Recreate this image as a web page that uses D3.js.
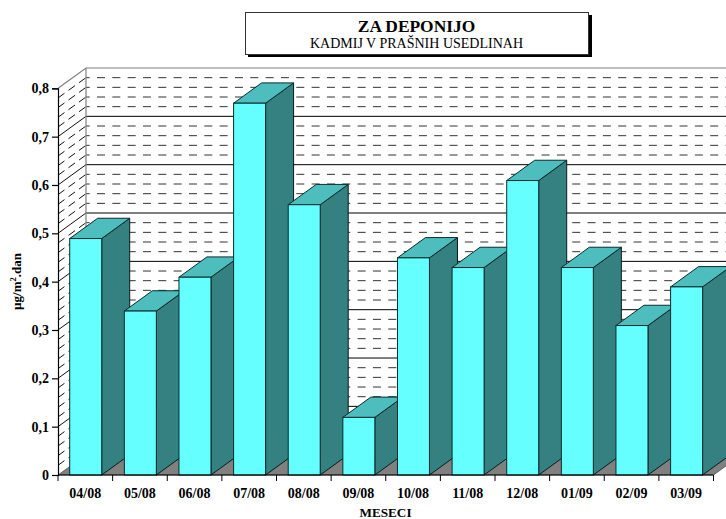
<!DOCTYPE html>
<html><head><meta charset="utf-8">
<script src="https://cdn.jsdelivr.net/npm/d3@7"></script>
<style>html,body{margin:0;padding:0;background:#fff}svg{display:block}text{font-family:"Liberation Serif","Times New Roman",serif;fill:#000}</style>
</head><body><div id="c"></div>
<script>
const categories=["04/08","05/08","06/08","07/08","08/08","09/08","10/08","11/08","12/08","01/09","02/09","03/09"];
const values=[0.49,0.34,0.41,0.77,0.56,0.12,0.45,0.43,0.61,0.43,0.31,0.39];
const majorTicks=[0,0.1,0.2,0.3,0.4,0.5,0.6,0.7,0.8];
const minorTicks=d3.range(0,40).map(i=>i*0.02).filter(v=>Math.round(v*100)%10!==0);
const titleText="ZA DEPONIJO", subtitleText="KADMIJ V PRAŠNIH USEDLINAH", xTitle="MESECI";

const W=726,H=519,dx=28,dy=20.3;
const svg=d3.select("#c").append("svg").attr("width",W).attr("height",H);
const x=d3.scaleBand().domain(categories).range([58,713.5]).paddingInner(0).paddingOuter(0);
const y=d3.scaleLinear().domain([0,0.8]).range([475,88.3]);
const barW=32, inset=(x.bandwidth()-barW)/2+0.4;
const fmt=v=>v===0?"0":String(v).replace(".",",");
const x0=x.range()[0],x1=x.range()[1];
const poly=p=>p.map(a=>a.join(",")).join(" ");

// back wall gridlines
const g=svg.append("g");
g.selectAll(".minor").data(minorTicks).join("line")
 .attr("x1",x0+dx).attr("x2",W+20).attr("y1",d=>y(d)-dy).attr("y2",d=>y(d)-dy)
 .attr("stroke","#333").attr("stroke-width",1).attr("stroke-dasharray","8,7.33").attr("stroke-dashoffset",4.33);
g.selectAll(".major").data(majorTicks.slice(1,-1)).join("line")
 .attr("x1",x0+dx).attr("x2",W+20).attr("y1",d=>y(d)-dy).attr("y2",d=>y(d)-dy)
 .attr("stroke","#000").attr("stroke-width",1);
// side wall
g.selectAll(".sminor").data(minorTicks).join("line")
 .attr("x1",x0).attr("x2",x0+dx).attr("y1",d=>y(d)).attr("y2",d=>y(d)-dy)
 .attr("stroke","#111").attr("stroke-width",1).attr("stroke-dasharray","8,5");
g.selectAll(".smajor").data(majorTicks.slice(1,-1)).join("line")
 .attr("x1",x0).attr("x2",x0+dx).attr("y1",d=>y(d)).attr("y2",d=>y(d)-dy)
 .attr("stroke","#111").attr("stroke-width",1);
// wall frame
g.append("polyline").attr("fill","none").attr("stroke","#808080").attr("stroke-width",1.2)
 .attr("points",poly([[x0,y(0.8)],[x0+dx,y(0.8)-dy],[W+20,y(0.8)-dy]]));
g.append("line").attr("x1",x0+dx).attr("x2",x0+dx).attr("y1",y(0.8)-dy).attr("y2",y(0)-dy).attr("stroke","#808080").attr("stroke-width",1.2);
// floor
g.append("polygon").attr("fill","#808080").attr("stroke","#333").attr("stroke-width",.6)
 .attr("points",poly([[x0,y(0)],[x0+dx,y(0)-dy],[x1+dx,y(0)-dy],[x1,y(0)]]));

// bars
const bars=svg.append("g").selectAll("g").data(categories.map((c,i)=>({c,v:values[i]}))).join("g");
const L=d=>x(d.c)+inset, R=d=>x(d.c)+inset+barW, T=d=>y(d.v)+0.4, B=y(0);
bars.append("polygon").attr("fill","#358080").attr("stroke","#061c1c").attr("stroke-width",1)
 .attr("points",d=>poly([[R(d),T(d)],[R(d)+dx,T(d)-dy],[R(d)+dx,B-dy],[R(d),B]]));
bars.append("polygon").attr("fill","#4DBDBD").attr("stroke","#0b2c2c").attr("stroke-width",1)
 .attr("points",d=>poly([[L(d),T(d)],[L(d)+dx,T(d)-dy],[R(d)+dx,T(d)-dy],[R(d),T(d)]]));
bars.append("rect").attr("x",L).attr("y",T).attr("width",barW).attr("height",d=>B-T(d))
 .attr("fill","#66FFFF").attr("stroke","#0b2c2c").attr("stroke-width",1);

// axes
const ya=svg.append("g").attr("transform",`translate(${x0},0)`).call(d3.axisLeft(y).tickValues(majorTicks).tickFormat(fmt).tickSize(6).tickPadding(3));
ya.selectAll("path").attr("stroke","#000").attr("stroke-width",1.2);
ya.selectAll("line").attr("stroke","#000").attr("stroke-width",1.2);
ya.selectAll("text").style("font-size","14px").style("font-weight","bold").style("font-family",'"Liberation Serif",serif').attr("fill","#000");
const xaTicks=x.domain().map(c=>x(c)).concat([x1]);
const xl=svg.append("g");
xl.append("line").attr("x1",x0).attr("x2",x1).attr("y1",y(0)).attr("y2",y(0)).attr("stroke","#000").attr("stroke-width",1.2);
xl.selectAll(".t").data(xaTicks).join("line").attr("x1",d=>d).attr("x2",d=>d).attr("y1",y(0)).attr("y2",y(0)+6).attr("stroke","#000").attr("stroke-width",1);
xl.selectAll("text").data(categories).join("text").attr("x",d=>x(d)+x.bandwidth()/2).attr("y",498)
 .attr("text-anchor","middle").style("font-size","14px").style("font-weight","bold").text(d=>d);
svg.append("text").attr("x",385.5).attr("y",517).attr("text-anchor","middle").style("font-size","13.2px").style("font-weight","bold").text(xTitle);
const yt=svg.append("text").attr("transform","translate(21,281.5) rotate(-90)").attr("text-anchor","middle").style("font-size","13px").style("font-weight","bold");
yt.append("tspan").text("µg/m");
yt.append("tspan").attr("dy",-5).style("font-size","8.5px").text("2");
yt.append("tspan").attr("dy",5).text(".dan");

// title box
svg.append("rect").attr("x",248).attr("y",15).attr("width",344).attr("height",42).attr("fill","#000");
svg.append("rect").attr("x",245.5).attr("y",12.5).attr("width",343).attr("height",42).attr("fill","#fff").attr("stroke","#333").attr("stroke-width",1);
svg.append("text").attr("x",416.5).attr("y",32).attr("text-anchor","middle").style("font-size","17.4px").style("font-weight","bold").text(titleText);
svg.append("text").attr("x",416.5).attr("y",48).attr("text-anchor","middle").style("font-size","14px").text(subtitleText);
</script></body></html>
